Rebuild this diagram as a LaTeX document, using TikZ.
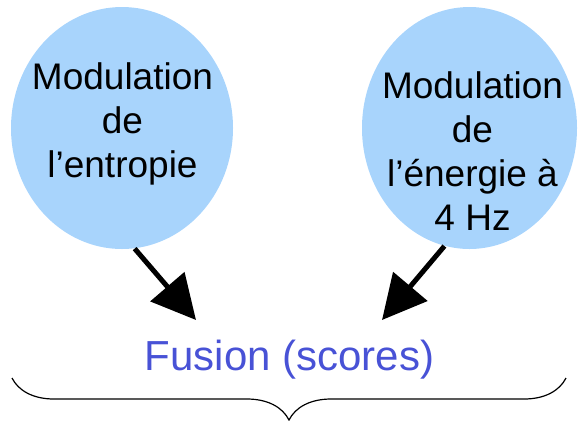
\documentclass[tikz,border=0pt]{standalone}
\usepackage{fontspec}
\setmainfont{Liberation Sans}
\usetikzlibrary{shapes.geometric,arrows.meta,decorations.pathreplacing}
\definecolor{bulle}{RGB}{168,212,252}
\definecolor{fusionbleu}{RGB}{72,82,214}

\begin{document}
\begin{tikzpicture}[x=0.5pt,y=-0.5pt,
  bulle/.style={ellipse,fill=bulle,inner sep=0pt},
  texte/.style={align=center,font=\fontsize{18.5}{22}\selectfont,anchor=base},
  fleche/.style={line width=2.5pt,-{Triangle[length=22pt,width=22pt]}}]

\useasboundingbox (0,0) rectangle (578,420);

\node[bulle,minimum width=111pt,minimum height=121pt] (entropie) at (122,128) {};
\node[bulle,minimum width=107.5pt,minimum height=121pt] (energie) at (469.5,128) {};
% ancre base = ligne du bas
\node[texte] (entropieTxt) at (122.5,177) {Modulation\\de\\l’entropie};
\node[texte] (energieTxt) at (472.5,230) {Modulation\\de\\l’énergie à\\4 Hz};

\node[color=fusionbleu,font=\fontsize{21}{25}\selectfont,anchor=base] (fusion) at (289.5,370) {Fusion (scores)};

\coordinate (pointeG) at (196,320);
\coordinate (pointeD) at (382,320);
\draw[fleche] (entropie.-84) -- (pointeG);
\draw[fleche] (energie.-102) -- (pointeD);

\coordinate (accD) at (566,378);
\coordinate (accG) at (12,378);
\draw[line width=0.6pt,decorate,decoration={brace,amplitude=21pt}] (accD) -- (accG);

\end{tikzpicture}
\end{document}
